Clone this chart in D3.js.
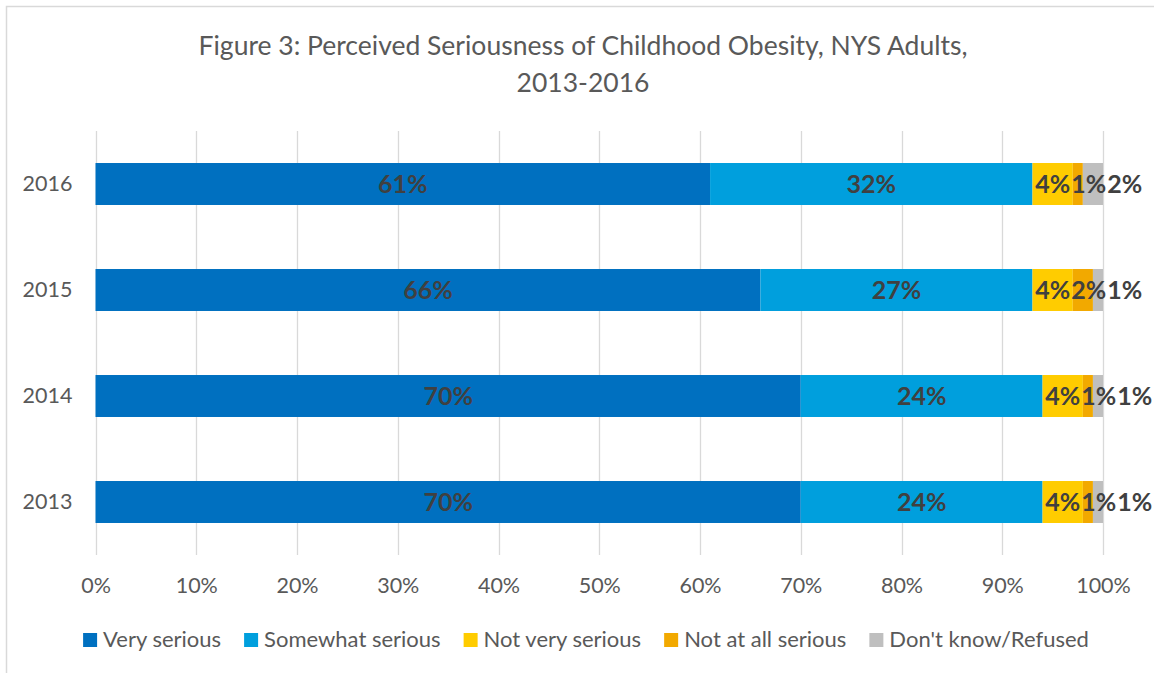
<!DOCTYPE html>
<html>
<head>
<meta charset="utf-8">
<script src="https://cdn.jsdelivr.net/npm/d3@7/dist/d3.min.js"></script>
<style>
  html, body { margin: 0; padding: 0; background: #fff; }
  svg { display: block; font-family: Lato, "Open Sans", sans-serif; }
</style>
</head>
<body>
<svg id="chart" width="1154" height="673"></svg>
<script>
// Survey responses by year (percent of adults)
const years = ["2016", "2015", "2014", "2013"];
const verySerious = [61, 66, 70, 70];
const somewhatSerious = [32, 27, 24, 24];
const notVerySerious = [4, 4, 4, 4];
const notAtAllSerious = [1, 2, 1, 1];
const dontKnow = [2, 1, 1, 1];

const seriesNames = ["Very serious", "Somewhat serious", "Not very serious", "Not at all serious", "Don't know/Refused"];
const seriesColors = ["#0070C0", "#009FDD", "#FFCC00", "#F2A900", "#BFBFBF"];
const xTicks = [0, 10, 20, 30, 40, 50, 60, 70, 80, 90, 100];

const titleLines = ["Figure 3: Perceived Seriousness of Childhood Obesity, NYS Adults,", "2013-2016"];

const rows = years.map((y, i) => ({
  year: y,
  values: [verySerious[i], somewhatSerious[i], notVerySerious[i], notAtAllSerious[i], dontKnow[i]]
}));
const stacked = d3.stack().keys(d3.range(seriesNames.length)).value((d, k) => d.values[k])(rows);

const svg = d3.select("#chart");
const W = 1154, H = 673;
const plot = { left: 95.5, right: 1103, top: 131, bottom: 555 };

// Chart area frame
svg.append("path")
  .attr("d", `M6.5,${H} V6.5 H${W}`)
  .attr("fill", "none").attr("stroke", "#D9D9D9").attr("stroke-width", 1.5);

// Title
const title = svg.append("text").attr("text-anchor", "middle").attr("fill", "#595959")
  .style("font-size", "26.5px");
titleLines.forEach((t, i) => {
  title.append("tspan").attr("x", 583).attr("y", 55 + i * 37).text(t);
});

const x = d3.scaleLinear().domain([0, 100]).range([plot.left, plot.right]);
const y = d3.scaleBand().domain(years).range([plot.top, plot.bottom])
  .paddingInner(0.604).paddingOuter(0.302);

// Vertical gridlines
svg.append("g").selectAll("line").data(xTicks).join("line")
  .attr("x1", d => Math.round(x(d)) + 0.5).attr("x2", d => Math.round(x(d)) + 0.5)
  .attr("y1", plot.top).attr("y2", plot.bottom)
  .attr("stroke", "#D9D9D9").attr("stroke-width", 1.3);

// X axis tick labels
const xAxis = svg.append("g").attr("transform", `translate(0,${plot.bottom})`)
  .call(d3.axisBottom(x).tickValues(xTicks).tickFormat(d => d + "%").tickSize(0).tickPadding(23));
xAxis.select(".domain").remove();
xAxis.selectAll("text").attr("fill", "#595959").style("font-size", "21.5px").style("font-family", "Lato, sans-serif");

// Y axis category labels
const yAxis = svg.append("g").attr("transform", `translate(${plot.left},0)`)
  .call(d3.axisLeft(y).tickSize(0).tickPadding(23));
yAxis.select(".domain").remove();
yAxis.selectAll("text").attr("fill", "#595959").style("font-size", "21.5px").style("font-family", "Lato, sans-serif");

// Stacked bars
const layers = svg.append("g").selectAll("g").data(stacked).join("g")
  .attr("fill", (d, i) => seriesColors[i]);
layers.selectAll("rect").data(d => d).join("rect")
  .attr("x", d => x(d[0]))
  .attr("width", d => x(d[1]) - x(d[0]))
  .attr("y", d => y(d.data.year))
  .attr("height", y.bandwidth());

// Value labels, nudged right where neighbouring labels would collide
const labelGroup = svg.append("g");
rows.forEach((row, ri) => {
  let prevRight = -Infinity;
  const cy = y(row.year) + y.bandwidth() / 2;
  stacked.forEach((layer, k) => {
    const seg = layer[ri];
    const t = labelGroup.append("text")
      .attr("fill", "#404040")
      .style("font-size", "25px").style("font-weight", "bold")
      .attr("y", cy).attr("dy", "0.36em")
      .text(row.values[k] + "%");
    const w = t.node().getComputedTextLength();
    let left = (x(seg[0]) + x(seg[1])) / 2 - w / 2;
    if (left < prevRight + 1) left = prevRight + 1;
    t.attr("x", left);
    prevRight = left + w;
  });
});

// Legend
const legend = svg.append("g");
let lx = 0;
seriesNames.forEach((name, i) => {
  const g = legend.append("g").attr("transform", `translate(${lx},0)`);
  g.append("rect").attr("x", 0).attr("y", -14).attr("width", 14).attr("height", 14).attr("fill", seriesColors[i]);
  const t = g.append("text").attr("x", 20).attr("y", 0).attr("fill", "#595959")
    .style("font-size", "22px").text(name);
  const w = 20 + t.node().getComputedTextLength();
  lx += w + 23;
});
const legendWidth = lx - 23;
legend.attr("transform", `translate(${586 - legendWidth / 2},647)`);
</script>
</body>
</html>
